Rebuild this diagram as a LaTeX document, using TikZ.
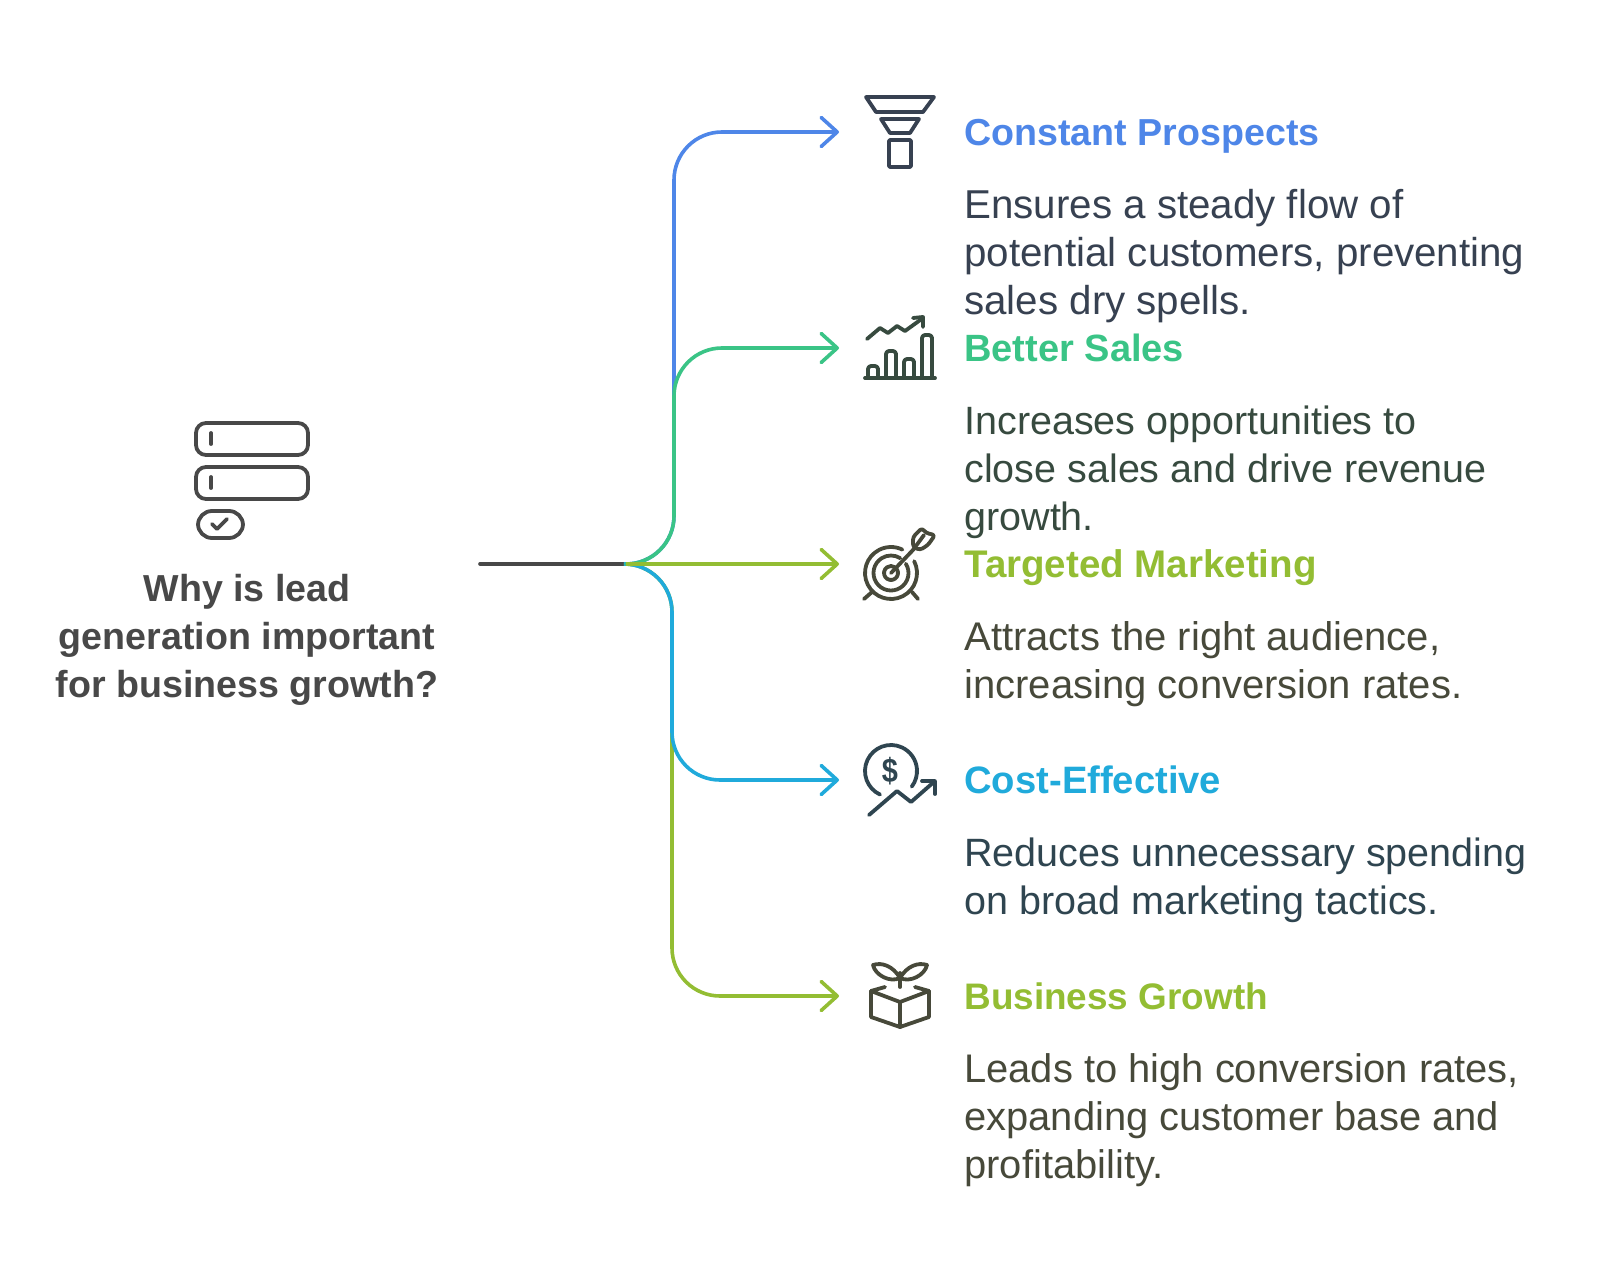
\documentclass[tikz,border=0pt]{standalone}
\usepackage{fontspec}
\setmainfont{Liberation Sans}
\usetikzlibrary{arrows.meta}
\definecolor{cblue}{HTML}{4E86E8}
\definecolor{cgreen}{HTML}{3AC486}
\definecolor{colive}{HTML}{93BD33}
\definecolor{ccyan}{HTML}{20AADB}
\definecolor{dslate}{HTML}{374151}
\definecolor{dgreen}{HTML}{374A3F}
\definecolor{dolive}{HTML}{47493A}
\definecolor{dcyan}{HTML}{2F4550}
\definecolor{dgrey}{HTML}{484848}
\newcommand{\headfs}[1]{\fontsize{#1}{24}\selectfont\bfseries}
\newcommand{\bodyfs}[1]{\fontsize{#1}{24}\selectfont}
\tikzset{
  conn/.style={line width=1.8pt,rounded corners=24pt,line cap=round},
  tip/.style={-{Straight Barb[length=8pt,width=14.5pt,line width=1.8pt,round]}},
  head/.style={anchor=base west,inner sep=0pt},
  body/.style={anchor=base west,inner sep=0pt,align=left},
  ques/.style={font=\fontsize{18.8}{23.8}\selectfont\bfseries,color=dgrey,anchor=base,inner sep=0pt,align=center},
  ico/.style={line width=1.9pt,line cap=round,line join=round},
}
\begin{document}
\begin{tikzpicture}[x=0.5pt,y=-0.5pt]
\useasboundingbox (0,0) rectangle (1608,1284);
\fill[white] (0,0) rectangle (1608,1284);
% junctions
\coordinate (src) at (480,564);
\coordinate (hub) at (626,564);
\coordinate (upper1) at (674,564);
\coordinate (upper2) at (674,348);
\coordinate (upper0) at (674,132);
\coordinate (lower1) at (672,564);
\coordinate (lower2) at (672,780);
\coordinate (lower3) at (672,996);
\coordinate (a1) at (839,132);
\coordinate (a2) at (839,348);
\coordinate (a3) at (839,564);
\coordinate (a4) at (839,780);
\coordinate (a5) at (839,996);
% connectors
\draw[line width=1.8pt,dgrey,line cap=round] (src) -- (hub);
\draw[conn,colive,tip] (hub) -- (lower1) -- (lower3) -- (a5);
\draw[conn,cblue,tip] (hub) -- (upper1) -- (upper0) -- (a1);
\draw[conn,ccyan,tip] (hub) -- (lower1) -- (lower2) -- (a4);
\draw[conn,cgreen,tip] (hub) -- (upper1) -- (upper2) -- (a2);
\draw[line width=1.8pt,colive,tip] (hub) -- (a3);
% question
\node[ques] (q) at (247,697) {Why is lead\\generation important\\for business growth?};
% titles
\node[head,cblue,font=\headfs{18.8}]  (t1) at (964,146) {Constant Prospects};
\node[head,cgreen,font=\headfs{19}] (t2) at (964,361) {Better Sales};
\node[head,colive,font=\headfs{19.25}] (t3) at (964,577) {Targeted Marketing};
\node[head,ccyan,font=\headfs{19.1}]  (t4) at (964,793) {Cost-Effective};
\node[head,colive,font=\headfs{18.45}] (t5) at (964,1009) {Business Growth};
% bodies (anchored on the last line)
\node[body,dslate,font=\bodyfs{20.15}] (b1) at (964,314.5) {Ensures a steady flow of\\potential customers, preventing\\sales dry spells.};
\node[body,dgreen,font=\bodyfs{19.75}] (b2) at (964,530) {Increases opportunities to\\close sales and drive revenue\\growth.};
\node[body,dolive,font=\bodyfs{20}] (b3) at (964,698) {Attracts the right audience,\\increasing conversion rates.};
\node[body,dcyan,font=\bodyfs{19.75}]  (b4) at (964,914) {Reduces unnecessary spending\\on broad marketing tactics.};
\node[body,dolive,font=\bodyfs{19.95}] (b5) at (964,1178) {Leads to high conversion rates,\\expanding customer base and\\profitability.};
% left icon
\begin{scope}[ico,dgrey]
\draw[rounded corners=5pt] (196,423) rectangle (308,455);
\draw[rounded corners=5pt] (196,467) rectangle (308,499);
\draw (211,433) -- (211,444);
\draw (211,477) -- (211,488);
\draw[rounded corners=7pt] (198,511) rectangle (243,538);
\draw (212,524) -- (217,529) -- (227,519);
\end{scope}
% funnel
\begin{scope}[ico,dslate]
\draw (866,97) -- (934,97) -- (923,112) -- (876,112) -- cycle;
\draw (881,119) -- (919,119) -- (910,133) -- (890,133) -- cycle;
\draw[rounded corners=0.5pt] (889,140) rectangle (911,167);
\end{scope}
% chart
\begin{scope}[ico,dgreen]
\draw (867,339) -- (880,328) -- (888,333) -- (897,326) -- (905,331) -- (923,318);
\draw (913,318) -- (923,317) -- (923,327);
\draw (865,378) -- (935,378);
\draw[rounded corners=1.5pt] (868,378) -- (868,366) -- (878,366) -- (878,378);
\draw[rounded corners=1.5pt] (886,378) -- (886,351) -- (896,351) -- (896,378);
\draw[rounded corners=1.5pt] (904,378) -- (904,359) -- (914,359) -- (914,378);
\draw[rounded corners=1.5pt] (922,378) -- (922,335) -- (932,335) -- (932,378);
\end{scope}
% target
\begin{scope}[ico,dolive]
\coordinate (tc) at (891,573);
\draw (tc) ++(333:26) arc[start angle=333,end angle=656,radius=26];
\draw (tc) ++(328:17.5) arc[start angle=328,end angle=662,radius=17.5];
\draw (tc) ++(325:7) arc[start angle=325,end angle=665,radius=7];
\draw (tc) -- (913,550);
\draw (872,592) -- (864,599);
\draw (912,592) -- (918,599);
\draw[rounded corners=1.5pt] (913,547) -- (913,537) -- (922,528) -- (926,533) -- (935,535) -- (928,545) -- (920,550) -- cycle;
\draw (913,550) -- (924,535);
\end{scope}
% dollar
\begin{scope}[ico,dcyan]
\coordinate (dc) at (891,771);
\draw (dc) ++(115:26) arc[start angle=115,end angle=397,radius=26];
\node[inner sep=0pt,xscale=0.85,font=\fontsize{17}{17}\selectfont\bfseries,dcyan] (dol) at (890,771) {\$};
\draw (869,815) -- (897,791) -- (911,802) -- (935,781);
\draw (922,781) -- (935,781) -- (935,794);
\end{scope}
% box
\begin{scope}[ico,dolive]
\draw (900,987) -- (900,973);
\draw (900,978) .. controls (893,966) and (882,962) .. (873,965) .. controls (875,975) and (890,983) .. (900,978);
\draw (900,978) .. controls (907,966) and (918,962) .. (927,965) .. controls (925,975) and (910,983) .. (900,978);
\draw (885,987) -- (871,991) -- (900,1002) -- (929,991) -- (915,987);
\draw (871,991) -- (871,1017) -- (900,1027) -- (929,1017) -- (929,991);
\draw (900,1002) -- (900,1027);
\end{scope}
\end{tikzpicture}
\end{document}
